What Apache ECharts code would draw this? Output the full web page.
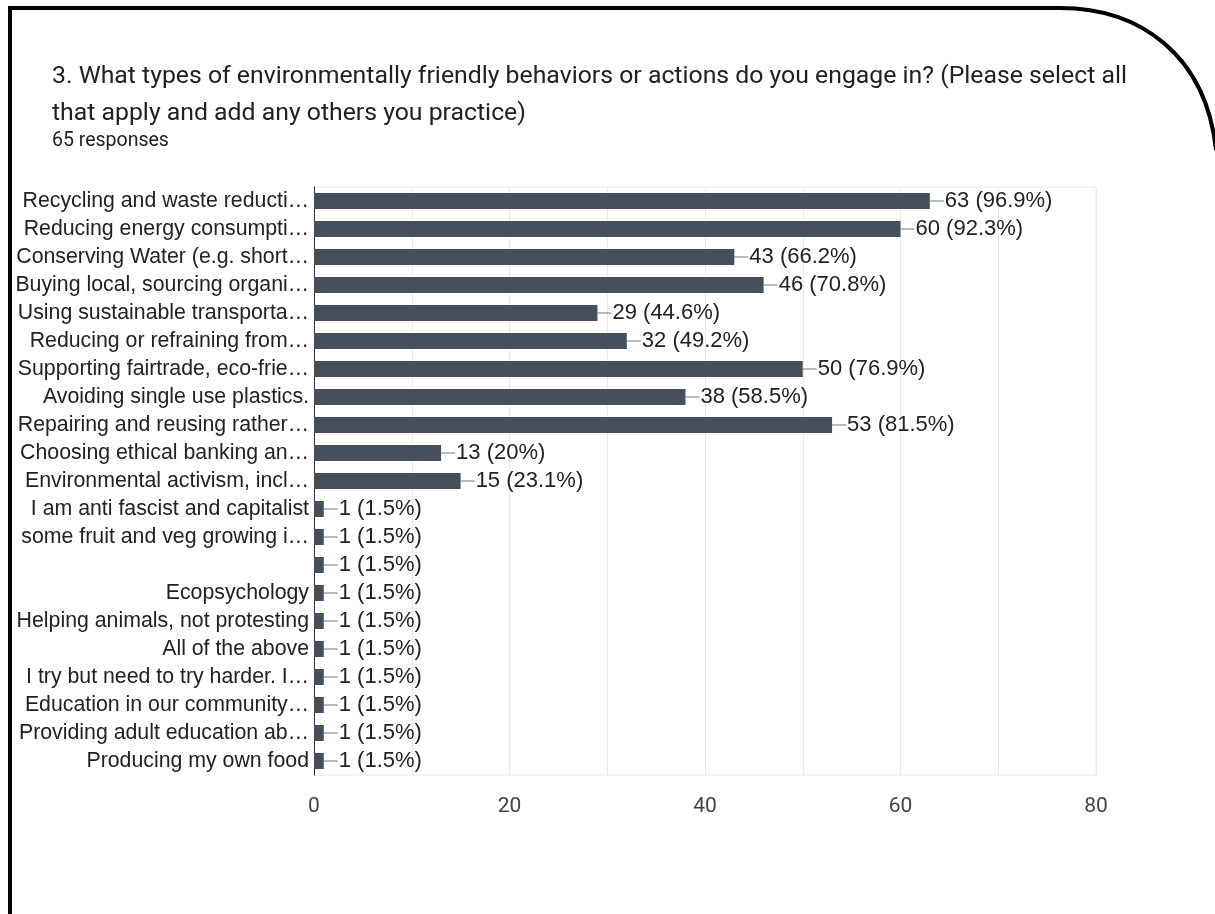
<!DOCTYPE html>
<html>
<head>
<meta charset="utf-8">
<script src="https://cdn.jsdelivr.net/npm/echarts@6/dist/echarts.min.js"></script>
<style>
  html, body { margin: 0; padding: 0; background: #fff; }
  #chart { width: 1215px; height: 914px; }
</style>
</head>
<body>
<div id="chart"></div>
<script>
// answers, as shown (already cut off by the form)
var categories = [
  'Recycling and waste reducti…',
  'Reducing energy consumpti…',
  'Conserving Water (e.g. short…',
  'Buying local, sourcing organi…',
  'Using sustainable transporta…',
  'Reducing or refraining from…',
  'Supporting fairtrade, eco-frie…',
  'Avoiding single use plastics.',
  'Repairing and reusing rather…',
  'Choosing ethical banking an…',
  'Environmental activism, incl…',
  'I am anti fascist and capitalist',
  'some fruit and veg growing i…',
  '',
  'Ecopsychology',
  'Helping animals, not protesting',
  'All of the above',
  'I try but need to try harder. I…',
  'Education in our community…',
  'Providing adult education ab…',
  'Producing my own food'
]
var counts = [63, 60, 43, 46, 29, 32, 50, 38, 53, 13, 15, 1, 1, 1, 1, 1, 1, 1, 1, 1, 1]
var percents = ['96.9%', '92.3%', '66.2%', '70.8%', '44.6%', '49.2%', '76.9%', '58.5%', '81.5%', '20%', '23.1%',
  '1.5%', '1.5%', '1.5%', '1.5%', '1.5%', '1.5%', '1.5%', '1.5%', '1.5%', '1.5%']
var xTicks = [0, 20, 40, 60, 80]

var chart = echarts.init(document.getElementById('chart'))

chart.setOption({
  animation: false,
  backgroundColor: '#fff',
  graphic: [
    // the screenshot's black frame
    {
      type: 'polyline',
      shape: { points: [[10, 914], [10, 8], [1060, 8]] },
      style: { fill: null, stroke: '#000', lineWidth: 4 }
    },
    {
      type: 'bezierCurve',
      shape: { x1: 1060, y1: 8, cpx1: 1140, cpy1: 8, cpx2: 1206, cpy2: 55, x2: 1216, y2: 150 },
      style: { fill: null, stroke: '#000', lineWidth: 4 }
    },
    {
      type: 'text', left: 52, top: 64,
      style: {
        text: '3. What types of environmentally friendly behaviors or actions do you engage in? (Please select all',
        font: '24.8px Roboto', fill: '#202124'
      }
    },
    {
      type: 'text', left: 52, top: 101,
      style: { text: 'that apply and add any others you practice)', font: '24.8px Roboto', fill: '#202124' }
    },
    {
      type: 'text', left: 52, top: 131,
      style: { text: '65 responses', font: '19.5px Roboto', fill: '#202124' }
    }
  ],
  grid: {
    left: 314,
    top: 187,
    width: 782,
    height: 588,
    show: true,
    borderColor: '#ebebeb',
    borderWidth: 1
  },
  xAxis: {
    type: 'value',
    min: xTicks[0],
    max: xTicks[xTicks.length - 1],
    interval: 20,
    axisLine: { show: false },
    axisTick: { show: false },
    axisLabel: { color: '#444', fontFamily: 'Roboto', fontSize: 21, margin: 21 },
    splitLine: { lineStyle: { color: '#ebebeb' } },
    minorTick: { show: false, splitNumber: 2 },
    minorSplitLine: { show: true, lineStyle: { color: '#ebebeb' } }
  },
  yAxis: {
    type: 'category',
    inverse: true,
    data: categories,
    axisLine: { show: true, lineStyle: { color: '#333', width: 1 } },
    axisTick: { show: false },
    axisLabel: { color: '#222', fontFamily: 'Liberation Sans, Arial', fontSize: 21.3, margin: 5 }
  },
  series: [{
    type: 'bar',
    data: counts,
    barWidth: 16,
    itemStyle: { color: '#46505c' },
    label: {
      show: true,
      position: 'right',
      distance: 0,
      formatter: function (p) {
        return '{line|}{v|' + p.value + ' (' + percents[p.dataIndex] + ')}'
      },
      rich: {
        line: { width: 14, height: 1, backgroundColor: '#777' },
        v: { color: '#222', fontFamily: 'Liberation Sans, Arial', fontSize: 22, padding: [0, 0, 0, 1] }
      }
    }
  }]
})
</script>
</body>
</html>
